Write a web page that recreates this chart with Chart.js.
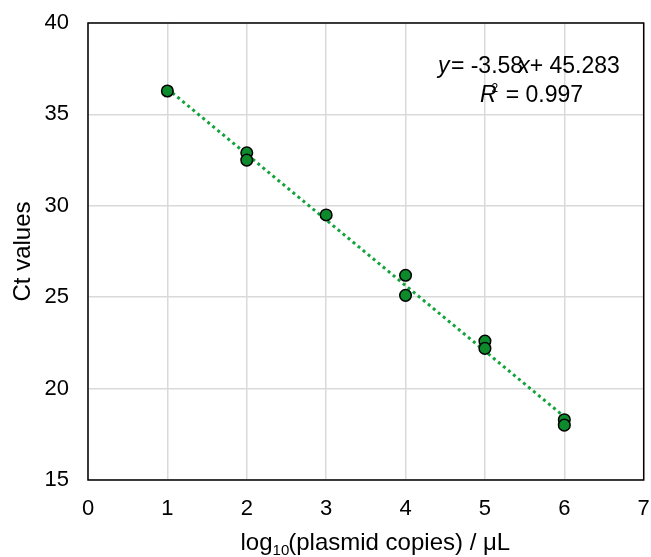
<!DOCTYPE html>
<html><head><meta charset="utf-8">
<script src="https://cdn.jsdelivr.net/npm/chart.js@4/dist/chart.umd.min.js"></script>
<style>html,body{margin:0;padding:0;background:#fff}#wrap{width:651px;height:557px}</style>
</head><body><div id="wrap"><canvas id="c" width="651" height="557"></canvas></div>
<script>
const xValues = [1, 2, 2, 3, 4, 4, 5, 5, 6, 6];
const ctValues = [36.28, 32.9, 32.5, 29.5, 26.2, 25.1, 22.6, 22.2, 18.3, 18.0];
const xTicks = [0, 1, 2, 3, 4, 5, 6, 7];
const yTicks = [15, 20, 25, 30, 35, 40];
const equationText = ['y', ' = -3.58', 'x', '+ 45.283'];
const r2Text = ['R', '2', ' = 0.997'];
const xTitleParts = ['log', '10', '(plasmid copies) / μL'];
const yTitle = 'Ct values';

// least-squares trendline from the data (like a spreadsheet linear trendline)
const n = xValues.length;
const mx = xValues.reduce((a,b)=>a+b,0)/n, my = ctValues.reduce((a,b)=>a+b,0)/n;
let sxy=0, sxx=0; for(let i=0;i<n;i++){sxy+=(xValues[i]-mx)*(ctValues[i]-my); sxx+=(xValues[i]-mx)**2;}
const slope = sxy/sxx, icpt = my - slope*mx;
const trendX = [Math.min(...xValues), Math.max(...xValues)];
const trend = trendX.map(x=>({x, y: icpt + slope*x}));

const FONT = '"Liberation Sans", Arial, sans-serif';
const boxPlugin = {
  id:'box',
  beforeDatasetsDraw(chart){
    const {ctx, chartArea:a} = chart;
    ctx.save(); ctx.strokeStyle='#000'; ctx.lineWidth=1.5;
    ctx.strokeRect(a.left, a.top, a.right-a.left, a.bottom-a.top); ctx.restore();
  },
  afterDraw(chart){
    const {ctx, chartArea:a} = chart;
    ctx.save(); ctx.fillStyle='#000'; ctx.textBaseline='alphabetic';
    // equation
    let x = 438, y = 73;
    const parts = [[equationText[0],'italic'],[equationText[1],''],[equationText[2],'italic'],[equationText[3],'']];
    parts.forEach(([t,st],i)=>{
      ctx.font = (st? st+' ':'') + '23px ' + FONT;
      ctx.fillText(t, x, y);
      x += ctx.measureText(t).width + (i===0 ? -5 : (i===1 ? -5 : 0));
    });
    // R2
    x = 480; y = 102;
    ctx.font = 'italic 23px ' + FONT; ctx.fillText(r2Text[0], x, y); x += ctx.measureText(r2Text[0]).width - 5;
    ctx.font = '12px ' + FONT; ctx.fillText(r2Text[1], x, y-10); x += ctx.measureText(r2Text[1]).width + 1;
    ctx.font = '23px ' + FONT; ctx.fillText(r2Text[2], x, y);
    // x title
    ctx.font = '24px ' + FONT;
    const w0 = ctx.measureText(xTitleParts[0]).width;
    ctx.font = '15px ' + FONT; const w1 = ctx.measureText(xTitleParts[1]).width;
    ctx.font = '24px ' + FONT; const w2 = ctx.measureText(xTitleParts[2]).width;
    const cx = (a.left + a.right)/2 + 10; let sx = cx - (w0+w1+w2)/2; const by = 550;
    ctx.fillText(xTitleParts[0], sx, by); sx += w0;
    ctx.font = '15px ' + FONT; ctx.fillText(xTitleParts[1], sx, by+5); sx += w1 - 1;
    ctx.font = '24px ' + FONT; ctx.fillText(xTitleParts[2], sx, by);
    ctx.restore();
  }
};

new Chart(document.getElementById('c'), {
  type:'scatter',
  data:{datasets:[
    {type:'line', data:trend, borderColor:'#13a33c', borderWidth:3, borderDash:[3,3.5], pointRadius:0, fill:false, order:2},
    {data:xValues.map((x,i)=>({x, y:ctValues[i]})), backgroundColor:'#0c8a2c', borderColor:'#000', borderWidth:1.5, pointRadius:5.8, order:1}
  ]},
  options:{
    responsive:false, animation:false, devicePixelRatio:1,
    layout:{padding:{top:23, right:7, left:0, bottom:0}},
    plugins:{legend:{display:false}, tooltip:{enabled:false}},
    scales:{
      x:{type:'linear', min:0, max:7, afterBuildTicks(s){s.ticks = xTicks.map(v=>({value:v}));},
        grid:{color:'#d9d9d9', lineWidth:1.5, drawTicks:false}, border:{display:false},
        ticks:{color:'#000', font:{family:FONT, size:22}, padding:16},
        afterFit(s){s.height = 77; s.paddingLeft = 0; s.paddingRight = 0;}},
      y:{type:'linear', min:15, max:40, afterBuildTicks(s){s.ticks = yTicks.map(v=>({value:v}));},
        grid:{color:'#d9d9d9', lineWidth:1.5, drawTicks:false}, border:{display:false},
        ticks:{color:'#000', font:{family:FONT, size:22}, padding:19},
        title:{display:true, text:yTitle, color:'#000', font:{family:FONT, size:24}, padding:{top:9, bottom:0}},
        afterFit(s){s.width = 88; s.paddingTop = 0; s.paddingBottom = 0;}}
    }
  },
  plugins:[boxPlugin]
});
</script></body></html>
